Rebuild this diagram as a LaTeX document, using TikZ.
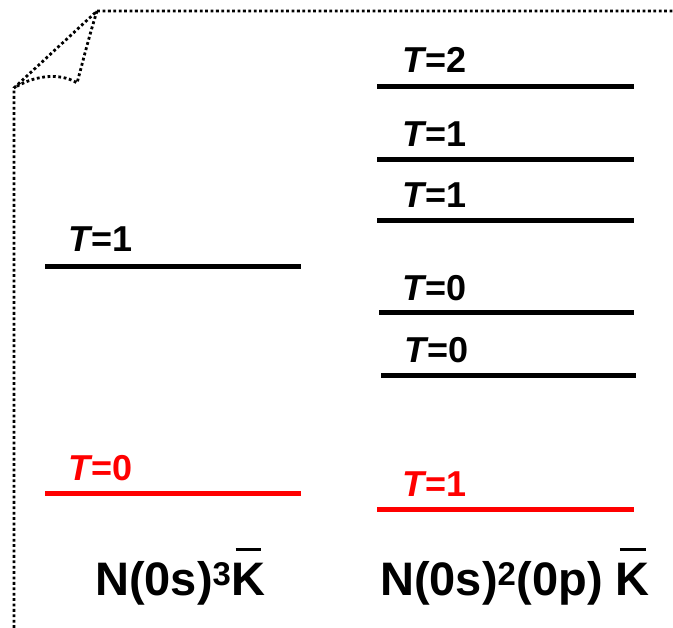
\documentclass[tikz,border=0pt]{standalone}
\usepackage{fontspec}
\setmainfont{Liberation Sans}
\newcommand{\kbarlabel}{\ooalign{K\cr\hidewidth\raisebox{0.93em}{\rule{0.55em}{0.065em}}\hidewidth\cr}}
\newcommand{\tval}[1]{\textit{T}\kern-1.5pt=#1}
\begin{document}
\begin{tikzpicture}[x=1pt,y=-1pt,
  level/.style={line width=5pt},
  lowlevel/.style={line width=5pt,draw=red},
  tlabel/.style={anchor=base west,inner sep=0pt,font=\fontsize{36}{40}\selectfont\bfseries},
  config/.style={anchor=base west,inner sep=0pt,font=\fontsize{47}{50}\selectfont\bfseries},
  frame/.style={line width=2.8pt,dash pattern=on 2.8pt off 2.6pt}]
\useasboundingbox (0,0) rectangle (673,628);
% page outline with a curled corner
\draw[frame] (14,628) -- (14,88) -- (97,11) -- (680,11);
\draw[frame] (97,11) .. controls (88,40) and (82,65) .. (77,83)
  .. controls (65,75) and (40,72) .. (14,88);
% left configuration
\draw[level] (45,267) -- (301,267);
\draw[lowlevel] (45,494) -- (301,494);
\node[tlabel] (l1) at (68,252) {\tval{1}};
\node[tlabel,text=red] (l0) at (68,481) {\tval{0}};
% right configuration
\draw[level] (377,87) -- (634,87);
\draw[level] (377,160) -- (634,160);
\draw[level] (377,221) -- (634,221);
\draw[level] (379,313) -- (634,313);
\draw[level] (381,376) -- (636,376);
\draw[lowlevel] (377,510) -- (634,510);
\node[tlabel] (r2) at (402,73) {\tval{2}};
\node[tlabel] (r1a) at (402,147) {\tval{1}};
\node[tlabel] (r1b) at (402,208) {\tval{1}};
\node[tlabel] (r0a) at (402,301) {\tval{0}};
\node[tlabel] (r0b) at (404,363) {\tval{0}};
\node[tlabel,text=red] (r1c) at (402,497) {\tval{1}};
% configuration labels
\node[config] (cl) at (95,595) {N(0s)\textsuperscript{3}\kbarlabel};
\node[config] (cr) at (380,595) {N(0s)\textsuperscript{2}(0p) \kbarlabel};
\end{tikzpicture}
\end{document}
